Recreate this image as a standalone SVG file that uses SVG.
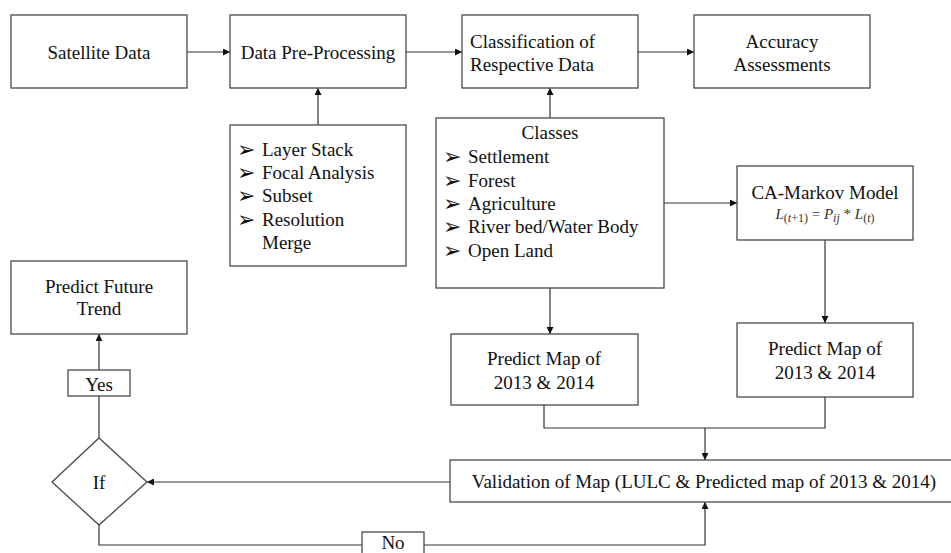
<svg xmlns="http://www.w3.org/2000/svg" width="951" height="553" viewBox="0 0 951 553">
<style>
.box{fill:#fff;stroke:#4a4a4a;stroke-width:1.3}
.t{font-family:"Liberation Serif","Times New Roman",serif;font-size:19px;fill:#111}
.c{text-anchor:middle}
.b{font-family:"DejaVu Sans",sans-serif;font-size:22px;fill:#111}
.ln{fill:none;stroke:#333;stroke-width:1.2}
.f{font-family:"Liberation Serif","Times New Roman",serif;font-size:15px;fill:#333}
</style>
<defs>
<marker id="ah" viewBox="0 0 10 10" refX="10" refY="5" markerWidth="7" markerHeight="7" markerUnits="userSpaceOnUse" orient="auto">
<path d="M0,0 L10,5 L0,10 z" fill="#111"/>
</marker>
</defs>
<rect width="951" height="553" fill="#fff"/>
<g id="connectors">
<line class="ln" x1="187" y1="52" x2="230" y2="52" marker-end="url(#ah)"/>
<line class="ln" x1="406" y1="52" x2="462" y2="52" marker-end="url(#ah)"/>
<line class="ln" x1="638" y1="52" x2="694" y2="52" marker-end="url(#ah)"/>
<line class="ln" x1="318" y1="125" x2="318" y2="88" marker-end="url(#ah)"/>
<line class="ln" x1="550" y1="118" x2="550" y2="88" marker-end="url(#ah)"/>
<line class="ln" x1="664" y1="203" x2="737" y2="203" marker-end="url(#ah)"/>
<line class="ln" x1="550" y1="288" x2="550" y2="334" marker-end="url(#ah)"/>
<line class="ln" x1="825" y1="240" x2="825" y2="323" marker-end="url(#ah)"/>
<polyline class="ln" points="544,405 544,428 825,428 825,397"/>
<line class="ln" x1="705" y1="428" x2="705" y2="460" marker-end="url(#ah)"/>
<line class="ln" x1="450" y1="482" x2="147" y2="482" marker-end="url(#ah)"/>
<line class="ln" x1="99" y1="438" x2="99" y2="396"/>
<line class="ln" x1="99" y1="370" x2="99" y2="334" marker-end="url(#ah)"/>
<polyline class="ln" points="99,525 99,545 362,545"/>
<polyline class="ln" points="424,545 705,545 705,502" marker-end="url(#ah)"/>
</g>
<g id="satellite">
<rect class="box" x="11" y="15" width="176" height="73"/>
<text class="t c" x="99" y="59">Satellite Data</text>
</g>
<g id="preprocessing">
<rect class="box" x="230" y="15" width="176" height="73"/>
<text class="t c" x="318" y="59">Data Pre-Processing</text>
</g>
<g id="classification">
<rect class="box" x="462" y="15" width="176" height="73"/>
<text class="t" x="470" y="48">Classification of</text>
<text class="t" x="470" y="71">Respective Data</text>
</g>
<g id="accuracy">
<rect class="box" x="694" y="15" width="176" height="73"/>
<text class="t c" x="782" y="48">Accuracy</text>
<text class="t c" x="782" y="71">Assessments</text>
</g>
<g id="steps">
<rect class="box" x="230" y="125" width="176" height="141"/>
<text class="b"><tspan x="237" y="157">➢</tspan><tspan x="237" y="180">➢</tspan><tspan x="237" y="203">➢</tspan><tspan x="237" y="227">➢</tspan></text>
<text class="t"><tspan x="262" y="156">Layer Stack</tspan><tspan x="262" y="179">Focal Analysis</tspan><tspan x="262" y="202">Subset</tspan><tspan x="262" y="226">Resolution</tspan><tspan x="262" y="249">Merge</tspan></text>
</g>
<g id="classes">
<rect class="box" x="436" y="118" width="228" height="170"/>
<text class="t c" x="550" y="139">Classes</text>
<text class="b"><tspan x="443" y="164">➢</tspan><tspan x="443" y="188">➢</tspan><tspan x="443" y="211">➢</tspan><tspan x="443" y="234">➢</tspan><tspan x="443" y="258">➢</tspan></text>
<text class="t"><tspan x="468" y="163">Settlement</tspan><tspan x="468" y="187">Forest</tspan><tspan x="468" y="210">Agriculture</tspan><tspan x="468" y="233">River bed/Water Body</tspan><tspan x="468" y="257">Open Land</tspan></text>
</g>
<g id="camarkov">
<rect class="box" x="737" y="166" width="176" height="74"/>
<text class="t c" x="825" y="199">CA-Markov Model</text>
<text class="f c" x="825" y="219"><tspan font-style="italic">L</tspan><tspan font-size="12" dy="3">(</tspan><tspan font-size="12" font-style="italic">t</tspan><tspan font-size="12">+1)</tspan><tspan dy="-3"> = </tspan><tspan font-style="italic">P</tspan><tspan font-size="12" font-style="italic" dy="3">ij</tspan><tspan dy="-3"> * </tspan><tspan font-style="italic">L</tspan><tspan font-size="12" dy="3">(</tspan><tspan font-size="12" font-style="italic">t</tspan><tspan font-size="12">)</tspan></text>
</g>
<g id="predictLeft">
<rect class="box" x="451" y="334" width="187" height="71"/>
<text class="t c" x="544" y="365">Predict Map of</text>
<text class="t c" x="544" y="389">2013 &amp; 2014</text>
</g>
<g id="predictRight">
<rect class="box" x="737" y="323" width="176" height="74"/>
<text class="t c" x="825" y="355">Predict Map of</text>
<text class="t c" x="825" y="379">2013 &amp; 2014</text>
</g>
<g id="validation">
<rect class="box" x="450" y="460" width="502" height="42"/>
<text class="t c" x="704" y="488">Validation of Map (LULC &amp; Predicted map of 2013 &amp; 2014)</text>
</g>
<g id="future">
<rect class="box" x="11" y="261" width="176" height="73"/>
<text class="t c" x="99" y="293">Predict Future</text>
<text class="t c" x="99" y="315">Trend</text>
</g>
<g id="yes">
<rect class="box" x="68" y="370" width="62" height="26"/>
<text class="t c" x="99" y="391">Yes</text>
</g>
<g id="if">
<polygon class="box" points="52,482 99,438 147,482 99,525"/>
<text class="t c" x="99" y="489">If</text>
</g>
<g id="no">
<rect class="box" x="362" y="532" width="62" height="26"/>
<text class="t c" x="393" y="549">No</text>
</g>
</svg>
